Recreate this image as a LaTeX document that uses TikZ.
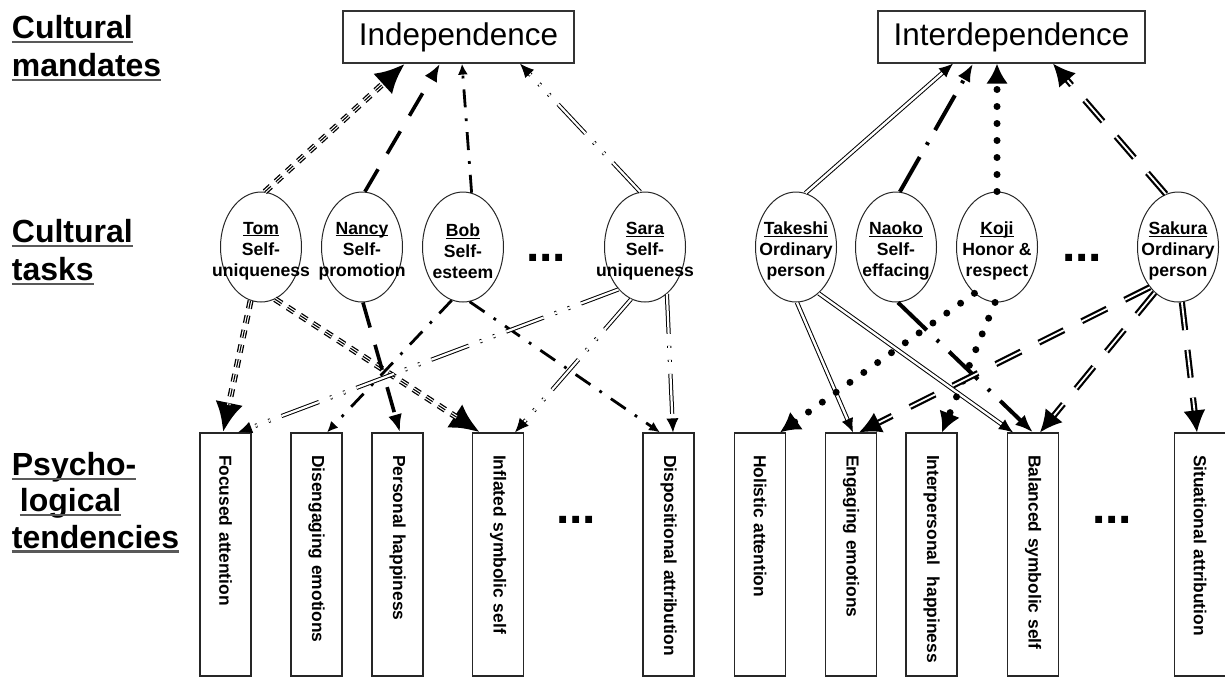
\documentclass[tikz,border=0pt]{standalone}
\usepackage{fontspec}
\setmainfont{Liberation Sans}
\usetikzlibrary{shapes.geometric,arrows.meta}

\newcommand{\undl}[1]{\setbox0=\hbox{#1}\rlap{\copy0}{\color{black!65}\rule[-2.4pt]{\wd0}{1.2pt}}}
\newcommand{\nameul}[1]{\setbox0=\hbox{#1}\rlap{\copy0}\rule[-1.2pt]{\wd0}{0.5pt}}

\tikzset{
  rowlabel/.style={anchor=north west, align=left, inner sep=0pt, font=\bfseries\fontsize{16}{19}\selectfont},
  mandate/.style={draw=black!80, line width=0.6pt, minimum height=26pt, inner sep=0pt, font=\fontsize{15.7}{18}\selectfont},
  task/.style={ellipse, draw=black!85, fill=white, line width=0.5pt, minimum width=40.5pt, minimum height=55pt, inner sep=0pt},
  tasktext/.style={align=center, inner sep=0pt, yshift=-2pt, font=\bfseries\fontsize{8.8}{10.6}\selectfont},
  tendency/.style={draw=black!85, line width=0.6pt, rotate=-90, minimum height=25.5pt, minimum width=121.5pt, text width=110pt, inner xsep=5.75pt, inner ysep=0pt, align=left, execute at begin node={\hspace*{5.25pt}}, font=\bfseries\fontsize{8.7}{10}\selectfont},
  moredots/.style={inner sep=0pt, font=\bfseries\fontsize{24}{24}\selectfont},
  tomline/.style={line width=3pt, dash pattern=on 4pt off 3.5pt, -{Latex[length=15pt,width=14pt]},
    postaction={draw=white, line width=1.7pt, dash pattern=on 4pt off 3.5pt, -, shorten >=14pt},
    postaction={draw=black, line width=0.55pt, dash pattern=on 4pt off 3.5pt, -, shorten >=14pt}},
  nancyline/.style={line width=1.8pt, dash pattern=on 13pt off 9pt, -{Latex[length=9pt,width=7pt]}},
  bobline/.style={line width=1.4pt, dash pattern=on 9pt off 5.5pt on 1.4pt off 5.5pt, -{Latex[length=5.5pt,width=5pt]}},
  saraline/.style={double, line width=0.5pt, double distance=1.1pt, dash pattern=on 20pt off 6pt on 1pt off 6pt on 1pt off 6pt, -{Latex[length=7pt,width=6pt]}},
  takeline/.style={double, line width=0.5pt, double distance=1.2pt, -{Latex[length=7pt,width=6pt]}},
  naokoline/.style={line width=2pt, dash pattern=on 20pt off 7pt on 1.5pt off 7pt, -{Latex[length=9pt,width=7pt]}},
  kojiline/.style={line width=3.5pt, line cap=round, dash pattern=on 0pt off 8.5pt, -{Latex[length=10pt,width=11pt]}},
  sakuraline/.style={double, line width=1.1pt, double distance=0.9pt, dash pattern=on 14pt off 10pt, -{Latex[length=11pt,width=11pt]}}
}

\begin{document}
\begin{tikzpicture}[x=0.5pt,y=-0.5pt]
    \useasboundingbox (0,0) rectangle (1225,677);
    % row labels
    \node[rowlabel] (lmand) at (11.5,14.6) {\undl{Cultural}\\\undl{mandates}};
    \node[rowlabel] (ltask) at (11.5,218.6) {\undl{Cultural}\\\undl{tasks}};
    \node[rowlabel, font=\bfseries\fontsize{16}{18.2}\selectfont] (ltend) at (11.5,451.6) {\undl{Psycho-}\\\hspace*{4pt}\undl{logical}\\\undl{tendencies}};

    % cultural mandates
    \node[mandate, minimum width=115.5pt] (indep) at (458.5,37) {Independence};
    \node[mandate, minimum width=133.5pt] (interdep) at (1011.5,37) {Interdependence};

    % cultural tasks
    \node[task, label={[tasktext]center:{\nameul{Tom}\\Self-\\uniqueness}}] (tom) at (261,247) {};
    \node[task, label={[tasktext]center:{\nameul{Nancy}\\Self-\\promotion}}] (nancy) at (362,247) {};
    \node[task, label={[tasktext]center:{\nameul{Bob}\\Self-\\esteem}}] (bob) at (463,247) {};
    \node[moredots] (dtask1) at (546,258) {...};
    \node[task, label={[tasktext]center:{\nameul{Sara}\\Self-\\uniqueness}}] (sara) at (645,247) {};
    \node[task, label={[tasktext]center:{\nameul{Takeshi}\\Ordinary\\person}}] (takeshi) at (796,247) {};
    \node[task, label={[tasktext]center:{\nameul{Naoko}\\Self-\\effacing}}] (naoko) at (896,247) {};
    \node[task, label={[tasktext]center:{\nameul{Koji}\\Honor \&\\respect}}] (koji) at (997,247) {};
    \node[moredots] (dtask2) at (1082,258) {...};
    \node[task, label={[tasktext]center:{\nameul{Sakura}\\Ordinary\\person}}] (sakura) at (1178,247) {};

    % psychological tendencies
    \node[tendency] (focus) at (225.5,554.5) {Focused attention};
    \node[tendency] (diseng) at (316.5,554.5) {Disengaging emotions};
    \node[tendency] (pers) at (397.5,554.5) {Personal happiness};
    \node[tendency] (infl) at (498,554.5) {Inflated symbolic self};
    \node[moredots] (dtend1) at (576,520) {...};
    \node[tendency] (dispo) at (668.5,554.5) {Dispositional attribution};
    \node[tendency] (holi) at (760,554.5) {Holistic attention};
    \node[tendency] (enga) at (851,554.5) {Engaging emotions};
    \node[tendency] (inter) at (931.5,554.5) {Interpersonal\ \ happiness};
    \node[tendency] (bala) at (1033,554.5) {Balanced symbolic self};
    \node[moredots] (dtend2) at (1112,520) {...};
    \node[tendency] (situ) at (1200,554.5) {Situational attribution};

    % Tom
    \draw[tomline] (tom.86) -- ([xshift=-26.75pt]indep.south);
    \draw[tomline] (tom.259) -- ([xshift=-1.25pt]focus.west);
    \draw[tomline] (tom.285) -- ([xshift=-9pt]infl.west);
    % Nancy
    \draw[nancyline] (nancy.87) -- ([xshift=-9.25pt]indep.south);
    \draw[nancyline] (nancy.271) -- ([xshift=1.25pt]pers.west);
    % Bob
    \draw[bobline] (bob.81) -- ([xshift=1.75pt]indep.south);
    \draw[bobline] (bob.258) -- ([xshift=5.25pt]diseng.west);
    \draw[bobline] (bob.277) -- ([xshift=-4.25pt]dispo.west);
    % Sara
    \draw[saraline] (sara.95) -- ([xshift=30.75pt]indep.south);
    \draw[saraline] (sara.238) -- ([xshift=6.25pt]focus.west);
    \draw[saraline] (sara.255) -- ([xshift=8.5pt]infl.west);
    \draw[saraline] (sara.295) -- ([xshift=2.25pt]dispo.west);
    % Takeshi
    \draw[takeline] (takeshi.80) -- ([xshift=-29.25pt]interdep.south);
    \draw[takeline] (takeshi.271) -- ([xshift=1pt]enga.west);
    \draw[takeline] (takeshi.296) -- ([xshift=-10pt]bala.west);
    % Naoko
    \draw[naokoline] (naoko.86) -- ([xshift=-19.25pt]interdep.south);
    \draw[naokoline] (naoko.272) -- (bala.west);
    % Koji
    \draw[kojiline] (koji.90) -- ([xshift=-7.25pt]interdep.south);
    \draw[kojiline] (koji.244) -- ([xshift=10pt]holi.west);
    \draw[kojiline] (koji.268) -- ([xshift=5.25pt]inter.west);
    % Sakura
    \draw[sakuraline] (sakura.103) -- ([xshift=20.75pt]interdep.south);
    \draw[sakuraline] (sakura.235) -- ([xshift=4pt]enga.west);
    \draw[sakuraline] (sakura.243) -- ([xshift=3.5pt]bala.west);
    \draw[sakuraline] (sakura.274) -- ([xshift=-1.5pt]situ.west);
\end{tikzpicture}
\end{document}
